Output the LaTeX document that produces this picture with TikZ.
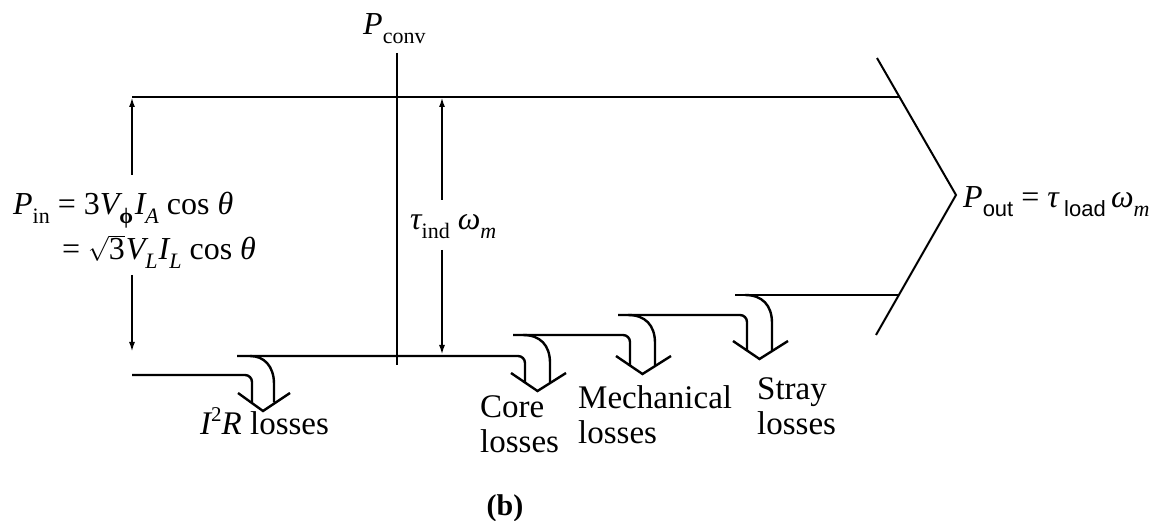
\documentclass[tikz,border=0pt]{standalone}
\usepackage{fontspec}
\setmainfont{Liberation Serif}
\newfontfamily\sansf{Liberation Sans}
\usetikzlibrary{arrows.meta}
\newcommand\sbs[1]{\raisebox{-0.28em}{\fontsize{22}{22}\selectfont #1}}
\newcommand\sps[1]{\raisebox{0.42em}{\fontsize{21}{21}\selectfont #1}}
% #1 upper level y, #2 inner shaft x, #3 outer shaft x, #4 tip y
\newcommand\losshook[4]{%
  \draw[flow] ({#2-2},#1) .. controls ({#3-10},#1) and (#3,{#1+10}) .. (#3,{#1+28}) -- (#3,{#4-8.5});
  \draw[flow,line join=miter] ({#2-14},{#4-18}) -- ({(#2+#3)/2},#4) -- ({#3+16},{#4-18});
}
\begin{document}
\begin{tikzpicture}[x=1pt,y=-1pt,
  flow/.style={line width=2.4pt},
  thin/.style={line width=2pt},
  arr/.style={line width=2pt,-{Latex[length=10pt,width=6pt]}},
  every node/.style={inner sep=0pt,font=\fontsize{32}{35}\selectfont},
  lbl/.style={align=left,anchor=north west,font=\fontsize{33}{35}\selectfont}]
\useasboundingbox (0,0) rectangle (1171,521);

% main top line and output chevron
\draw[flow] (132,97) -- (899.5,97);
\draw[thin,line join=miter] (877,58) -- (956,195) -- (876,335);

% levels
\draw[flow,rounded corners=7pt] (132,375) -- (252,375) -- (252,402.5);
\draw[flow,rounded corners=7pt] (237,356) -- (525,356) -- (525,382.5);
\draw[flow,rounded corners=7pt] (513,335) -- (630,335) -- (630,365.5);
\draw[flow,rounded corners=7pt] (618,315) -- (747,315) -- (747,350.5);
\draw[flow] (735,295) -- (899,295);

% loss hooks
\losshook{356}{252}{274}{411}
\losshook{335}{525}{550}{391}
\losshook{315}{630}{655}{374}
\losshook{295}{747}{772}{359}

% P_conv divider
\coordinate (cvt) at (397,53);
\coordinate (cvb) at (397,365);
\draw[flow] (cvt) -- (cvb);

% input arrow
\coordinate (ia1) at (132,175);
\coordinate (ia1e) at (132,97);
\coordinate (ia2) at (132,275);
\coordinate (ia2e) at (132,352);
\draw[arr] (ia1) -- (ia1e);
\draw[arr] (ia2) -- (ia2e);

% torque arrow
\coordinate (ta1) at (442,200);
\coordinate (ta1e) at (442,97);
\coordinate (ta2) at (442,250);
\coordinate (ta2e) at (442,355);
\draw[arr] (ta1) -- (ta1e);
\draw[arr] (ta2) -- (ta2e);

% labels
\node[anchor=base west] (pconv) at (363,35) {{\itshape P}\sbs{conv}};
\node[anchor=base west] (pin1) at (13,215) {{\itshape P}\sbs{in} = 3{\itshape V}\sbs{\bfseries ϕ}\kern0.05em{\itshape I}\sbs{\itshape A} cos {\itshape θ}};
\node[anchor=base west] (pin2) at (62,260) {= $\sqrt{\mbox{3}}$\kern0.03em{\itshape V}\sbs{\itshape L}\kern0.03em{\itshape I}\sbs{\itshape L} cos {\itshape θ}};
\node[anchor=base west] (tind) at (410,230) {{\itshape τ}\sbs{ind} {\itshape ω}\sbs{\itshape m}};
\node[anchor=base west] (pout) at (963,208) {{\itshape P}\sbs{\sansf out} = {\itshape τ}\,\sbs{\sansf load}\,{\itshape ω}\sbs{\itshape m}};
\node[anchor=base west,font=\fontsize{33}{35}\selectfont] (i2r) at (200,435) {{\itshape I}\sps{2}{\itshape R} losses};
\node[lbl] (core) at (480,395) {Core\\losses};
\node[lbl] (mech) at (578,385) {Mechanical\\losses};
\node[lbl] (stray) at (757,377) {Stray\\losses};
\node[anchor=base,font=\fontsize{30}{32}\selectfont\bfseries] (b) at (505,515) {(b)};
\end{tikzpicture}
\end{document}
